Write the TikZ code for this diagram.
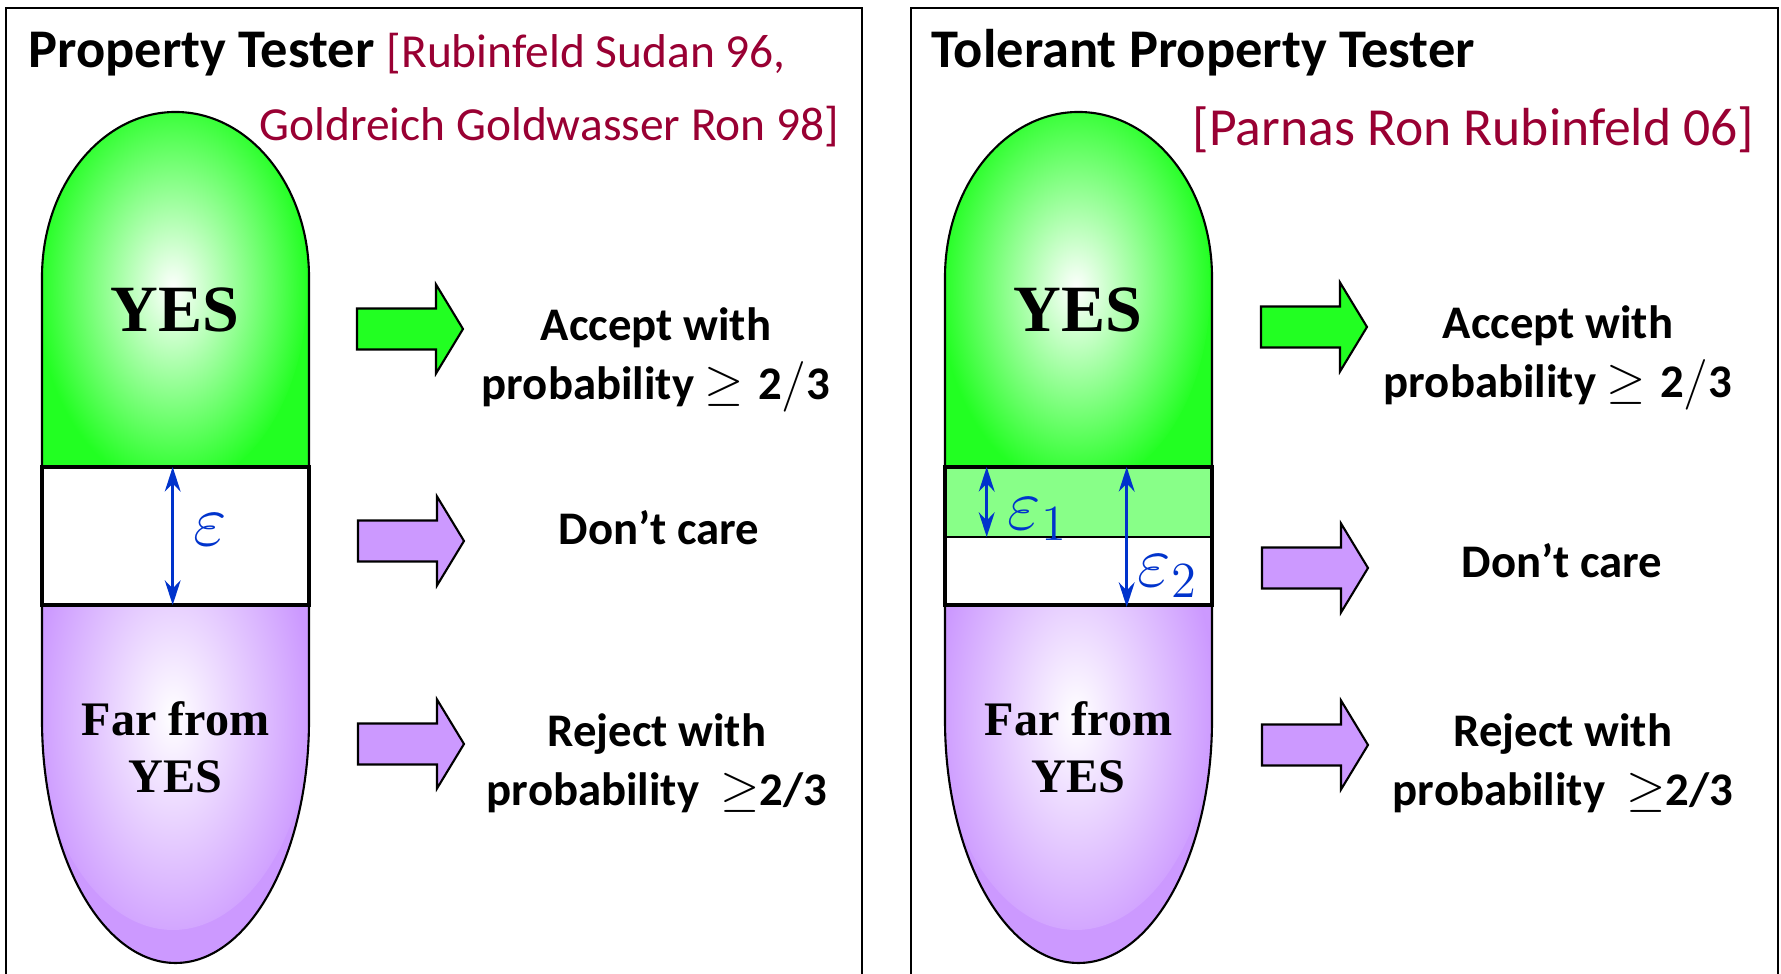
\documentclass[tikz,border=0pt]{standalone}
\usepackage{fontspec}
\setmainfont{Carlito}
\newfontfamily\yesfont{Liberation Serif}
\usepackage{tikz}
\usetikzlibrary{arrows.meta, calc}
\definecolor{pillgreen}{HTML}{22FF22}
\definecolor{bandgreen}{HTML}{88FF88}
\definecolor{pillpurple}{HTML}{CC99FF}
\definecolor{epsblue}{HTML}{0033CC}
\definecolor{citered}{HTML}{990033}

\tikzset{
  pilledge/.style={draw=black, line width=0.6pt},
  gapbox/.style={draw=black, line width=1.1pt},
  gaparrow/.style={epsblue, line width=0.8pt,
    {Stealth[length=7pt,width=4.5pt]}-{Stealth[length=7pt,width=4.5pt]}},
  paneltitle/.style={font=\fontsize{15.5}{18}\selectfont\bfseries, anchor=base west, inner sep=0},
  citation/.style={font=\fontsize{13.5}{16}\selectfont, citered, inner sep=0},
  outcome/.style={font=\fontsize{13.3}{16.8}\selectfont\bfseries, align=center, inner sep=0},
  region/.style={font=\fontsize{13.7}{16.2}\selectfont\yesfont\bfseries, align=center, inner sep=0},
  epslabel/.style={epsblue, font=\fontsize{21}{25}\selectfont, anchor=west, inner sep=0},
}

% block arrow: tail x, middle y, fill colour
\newcommand{\fatarrow}[3]{%
  \draw[line width=0.6pt, fill=#3] (#1,#2) ++(0,0.205) -- ++(0.79,0) -- ++(0,0.24)
    -- ++(0.27,-0.445) -- ++(-0.27,-0.445) -- ++(0,0.24) -- ++(-0.79,0) -- cycle;}

% the capsule, green top and purple bottom
\newcommand{\pill}{%
  \draw[pilledge, fill=pillgreen,
    path picture={\shade[inner color=white, outer color=pillgreen] (1.72,6.85) ellipse (1.35 and 2.0);}]
    (0.42,5.07) -- (0.42,6.97) arc[start angle=180, end angle=0, x radius=1.335, y radius=1.65]
    -- (3.09,5.07) -- cycle;
  \draw[pilledge, fill=pillpurple,
    path picture={\shade[inner color=white, outer color=pillpurple] (1.73,2.74) ellipse (1.4 and 2.3);}]
    (0.42,3.69) -- (0.42,2.54) arc[start angle=180, end angle=360, x radius=1.335, y radius=2.43]
    -- (3.09,3.69) -- cycle;
  \node[region, font=\fontsize{18.8}{22}\selectfont\yesfont\bfseries] (yes) at (1.75,6.64) {YES};
  \node[region] (far) at (1.754,2.27) {Far from\\YES};
}

\begin{document}
\begin{tikzpicture}
  \clip (0,0) rectangle (17.81,9.74);
  \fill[white] (0,0) rectangle (17.81,9.74);

  % left panel: property tester
  \draw[line width=0.6pt] (0.06,-0.2) -- (0.06,9.66) -- (8.62,9.66) -- (8.62,-0.2);
  \node[paneltitle] (ptitle) at (0.28,9.06) {Property Tester};
  \node[citation, anchor=base west] (pcite1) at (3.86,9.06) {[Rubinfeld Sudan 96,};
  \node[citation, anchor=base east] (pcite2) at (8.40,8.335) {Goldreich Goldwasser Ron 98]};
  \pill
  \draw[gapbox, fill=white] (0.42,5.07) rectangle (3.09,3.69);
  \coordinate (etop) at (1.727,5.07);
  \coordinate (ebot) at (1.727,3.69);
  \draw[gaparrow] (etop) -- (ebot);
  \node[epslabel] (eps) at (1.93,4.44) {$\varepsilon$};
  \fatarrow{3.57}{6.45}{pillgreen}
  \fatarrow{3.58}{4.33}{pillpurple}
  \fatarrow{3.58}{2.30}{pillpurple}
  \node[outcome] (paccept) at (6.56,6.145) {Accept with\\probability $\geq \mathbf{2/3}$};
  \node[outcome] (pdont) at (6.59,4.46) {Don’t care};
  \node[outcome] (preject) at (6.57,2.11) {Reject with\\probability \ $\geq$2/3};

  % right panel: tolerant tester
  \begin{scope}[xshift=9.03cm]
    \draw[line width=0.6pt] (0.08,-0.2) -- (0.08,9.66) -- (8.75,9.66) -- (8.75,-0.2);
    \node[paneltitle] (ttitle) at (0.28,9.06) {Tolerant Property Tester};
    \node[citation, anchor=base east, font=\fontsize{15.25}{18}\selectfont] (tcite) at (8.52,8.28)
      {[Parnas Ron Rubinfeld 06]};
    \pill
    \fill[bandgreen] (0.42,5.07) rectangle (3.09,4.37);
    \fill[white] (0.42,4.37) rectangle (3.09,3.69);
    \draw[line width=0.5pt] (0.42,4.37) -- (3.09,4.37);
    \draw[gapbox] (0.42,5.07) rectangle (3.09,3.69);
    \coordinate (e1top) at (0.837,5.07);
    \coordinate (e1bot) at (0.837,4.37);
    \coordinate (e2top) at (2.237,5.07);
    \coordinate (e2bot) at (2.237,3.67);
    \draw[gaparrow] (e1top) -- (e1bot);
    \draw[gaparrow] (e2top) -- (e2bot);
    \node[epslabel] (eps1) at (1.04,4.55) {$\varepsilon_1$};
    \node[epslabel] (eps2) at (2.34,3.98) {$\varepsilon_2$};
    \fatarrow{3.58}{6.47}{pillgreen}
    \fatarrow{3.59}{4.06}{pillpurple}
    \fatarrow{3.59}{2.29}{pillpurple}
    \node[outcome] (taccept) at (6.55,6.165) {Accept with\\probability $\geq \mathbf{2/3}$};
    \node[outcome] (tdont) at (6.59,4.13) {Don’t care};
    \node[outcome] (treject) at (6.60,2.11) {Reject with\\probability \ $\geq$2/3};
  \end{scope}
\end{tikzpicture}
\end{document}
